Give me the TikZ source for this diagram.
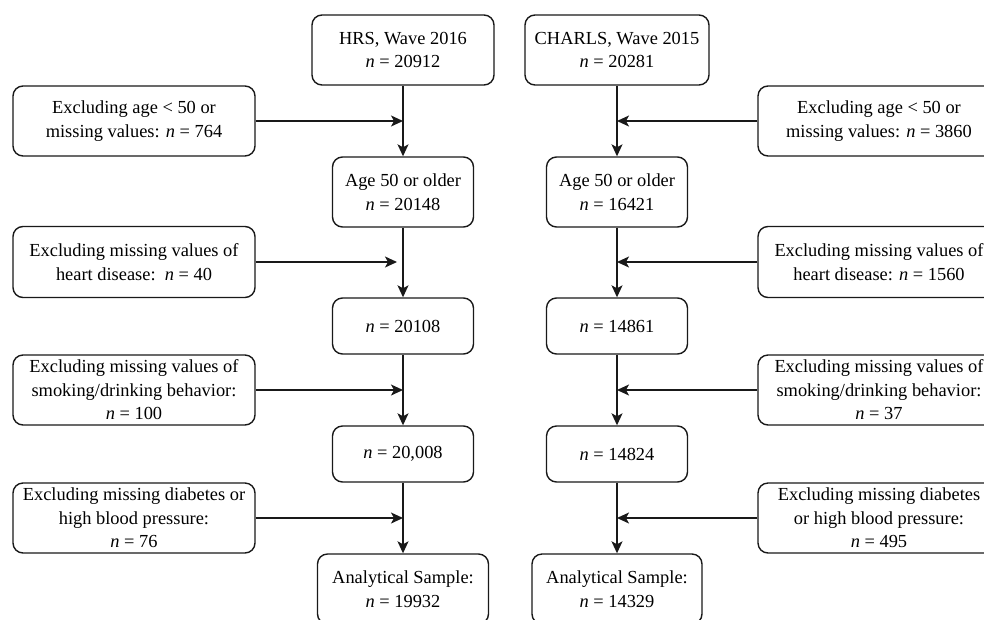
\documentclass[tikz,border=0pt]{standalone}
\usepackage{fontspec}
\setmainfont{Liberation Serif}
\usetikzlibrary{arrows.meta}
\begin{document}
\begin{tikzpicture}[x=1pt,y=-1pt,
  box/.style={draw=black!90, line width=1.4pt, rounded corners=10pt, align=center, inner sep=0pt, font=\fontsize{18.4}{23.5}\selectfont},
  mainbox/.style={box, minimum width=141pt, minimum height=70pt},
  smallbox/.style={box, minimum width=141pt, minimum height=56pt},
  exbox/.style={box, minimum width=242pt, minimum height=70pt},
  arr/.style={draw=black!90, line width=1.4pt, -{Stealth[length=12pt,width=11pt,inset=3pt]}}]
\useasboundingbox (0,0) rectangle (984,619);
\clip (0,0) rectangle (984,619);
% left column
\node[box, minimum width=182pt, minimum height=70pt] (hrs) at (403,50) {HRS, Wave 2016\\\textit{n} = 20912};
\node[mainbox] (ageL) at (403,192) {Age 50 or older\\\textit{n} = 20148};
\node[smallbox] (n1L) at (403,326) {\textit{n} = 20108};
\node[smallbox] (n2L) at (403,454) {\textit{n} = 20,008};
\node[box, minimum width=171pt, minimum height=70pt] (anaL) at (403,589) {Analytical Sample:\\\textit{n} = 19932};
\node[exbox] (e1L) at (134,121) {Excluding age < 50 or\\missing values: \textit{n} = 764};
\node[exbox, minimum height=71pt] (e2L) at (134,262) {Excluding missing values of\\heart disease:\ \ \textit{n} = 40};
\node[exbox] (e3L) at (134,390) {Excluding missing values of\\smoking/drinking behavior:\\\textit{n} = 100};
\node[exbox] (e4L) at (134,518) {Excluding missing diabetes or\\high blood pressure:\\\textit{n} = 76};
% right column
\node[box, minimum width=184pt, minimum height=70pt] (charls) at (617,50) {CHARLS, Wave 2015\\\textit{n} = 20281};
\node[mainbox] (ageR) at (617,192) {Age 50 or older\\\textit{n} = 16421};
\node[smallbox] (n1R) at (617,326) {\textit{n} = 14861};
\node[smallbox] (n2R) at (617,454) {\textit{n} = 14824};
\node[box, minimum width=170pt, minimum height=70pt] (anaR) at (617,589) {Analytical Sample:\\\textit{n} = 14329};
\node[exbox] (e1R) at (879,121) {Excluding age < 50 or\\missing values: \textit{n} = 3860};
\node[exbox, minimum height=71pt] (e2R) at (879,262) {Excluding missing values of\\heart disease: \textit{n} = 1560};
\node[exbox] (e3R) at (879,390) {Excluding missing values of\\smoking/drinking behavior:\\\textit{n} = 37};
\node[exbox] (e4R) at (879,518) {Excluding missing diabetes\\or high blood pressure:\\\textit{n} = 495};
% junction coordinates
\coordinate (j1L) at (403,121);
\coordinate (j2L) at (397,262);
\coordinate (j3L) at (403,390);
\coordinate (j4L) at (403,518);
\coordinate (j1R) at (617,121);
\coordinate (j2R) at (617,262);
\coordinate (j3R) at (617,390);
\coordinate (j4R) at (617,518);
% vertical arrows
\draw[arr] (hrs.south) -- (ageL.north);
\draw[arr] (ageL.south) -- (n1L.north);
\draw[arr] (n1L.south) -- (n2L.north);
\draw[arr] (n2L.south) -- (anaL.north);
\draw[arr] (charls.south) -- (ageR.north);
\draw[arr] (ageR.south) -- (n1R.north);
\draw[arr] (n1R.south) -- (n2R.north);
\draw[arr] (n2R.south) -- (anaR.north);
% horizontal arrows
\draw[arr] (e1L.east) -- (j1L);
\draw[arr] (e2L.east) -- (j2L);
\draw[arr] (e3L.east) -- (j3L);
\draw[arr] (e4L.east) -- (j4L);
\draw[arr] (e1R.west) -- (j1R);
\draw[arr] (e2R.west) -- (j2R);
\draw[arr] (e3R.west) -- (j3R);
\draw[arr] (e4R.west) -- (j4R);
\end{tikzpicture}
\end{document}
